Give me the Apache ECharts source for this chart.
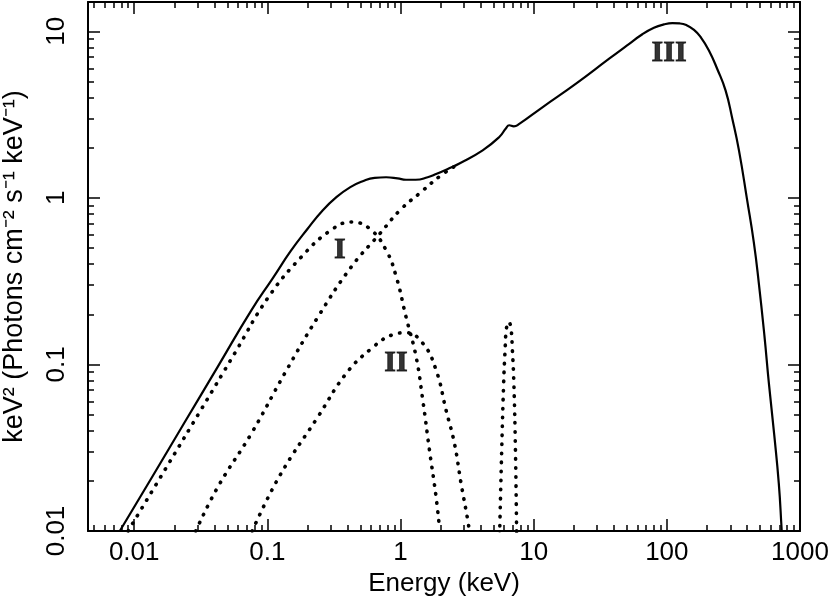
<!DOCTYPE html>
<html>
<head>
<meta charset="utf-8">
<script src="https://cdn.jsdelivr.net/npm/echarts@6/dist/echarts.min.js"></script>
<style>
html,body{margin:0;padding:0;background:#fff}
#chart{width:830px;height:600px}
</style>
</head>
<body>
<div id="chart"></div>
<script>
// total model (solid), energies in keV, flux in keV^2 Photons cm^-2 s^-1 keV^-1
var totalE = [0.0078, 0.0135, 0.024, 0.0427, 0.076, 0.11, 0.15, 0.2, 0.26, 0.33, 0.42, 0.52, 0.64, 0.78, 0.95, 1.1, 1.3, 1.6, 1.85, 2.3, 2.77, 4.14, 5.52, 6.2, 6.55, 7.1, 7.7, 11.7, 20.8, 36.9, 50, 65.5, 80, 95, 110, 125, 140, 160, 180, 207, 240, 276, 310, 348, 401, 450, 491, 540, 584, 640, 693, 726, 740];
var totalF = [0.01, 0.0208, 0.0451, 0.0977, 0.212, 0.33, 0.48, 0.65, 0.84, 1.01, 1.16, 1.26, 1.32, 1.33, 1.31, 1.285, 1.285, 1.33, 1.39, 1.50, 1.61, 1.93, 2.32, 2.62, 2.73, 2.69, 2.76, 3.51, 4.85, 6.85, 8.2, 9.6, 10.5, 11.0, 11.2, 11.15, 10.9, 10.2, 9.2, 7.68, 5.9, 4.42, 3.0, 1.93, 0.97, 0.54, 0.306, 0.15, 0.0769, 0.038, 0.0193, 0.0106, 0.008];

// component I (dotted)
var compIE = [0.009, 0.018, 0.032, 0.057, 0.101, 0.18, 0.30, 0.427, 0.586, 0.78, 0.93, 1.10, 1.31, 1.47, 1.65, 1.85, 1.96];
var compIF = [0.01, 0.0251, 0.054, 0.117, 0.251, 0.442, 0.64, 0.716, 0.654, 0.485, 0.335, 0.193, 0.111, 0.061, 0.0306, 0.016, 0.0105];

// component II (dotted)
var compIIE = [0.077, 0.124, 0.24, 0.39, 0.6, 0.877, 1.10, 1.47, 1.85, 2.2, 2.54, 2.85, 3.2, 3.3];
var compIIF = [0.01, 0.0215, 0.0485, 0.088, 0.124, 0.151, 0.155, 0.134, 0.0925, 0.053, 0.0336, 0.0193, 0.0116, 0.0098];

// component III below where it merges into the total (dotted)
var compIIIE = [0.029, 0.0427, 0.076, 0.135, 0.24, 0.427, 0.70, 1.0, 1.4, 2.0, 2.6];
var compIIIF = [0.01, 0.0185, 0.0386, 0.0883, 0.193, 0.385, 0.61, 0.85, 1.07, 1.36, 1.56];

// iron line (dotted)
var feE = [5.55, 5.75, 5.95, 6.1, 6.25, 6.5, 6.75, 6.92, 7.1, 7.3, 7.45];
var feF = [0.0095, 0.03, 0.077, 0.122, 0.165, 0.18, 0.165, 0.122, 0.077, 0.03, 0.0095];

// component labels
var labelNames = ['I', 'II', 'III'];
var labelE = [0.35, 0.925, 104];
var labelF = [0.485, 0.101, 7.42];

// axes
var xMin = 0.0045, xMax = 1000;
var yMin = 0.01, yMax = 15;
var majorX = [0.01, 0.1, 1, 10, 100, 1000];
var majorY = [0.01, 0.1, 1, 10];
var minorX = [], minorY = [];
[0.001, 0.01, 0.1, 1, 10, 100].forEach(function (d) {
	for (var k = 2; k <= 9; k++) {
		var v = Number((k * d).toPrecision(6));
		if (v > xMin && v < xMax) minorX.push(v);
		if (v > yMin && v < yMax) minorY.push(v);
	}
});

var sans = "'Liberation Sans', Arial, Helvetica, sans-serif";

function zip(a, b) {
	return a.map(function (v, i) { return [v, b[i]]; });
}
function fmt(v) {
	return String(Number(v.toPrecision(6)));
}

function makeAxis(dim, position, ticks, len, withLine, withLabel) {
	var ax = {
		type: 'log',
		logBase: 10,
		position: position,
		min: dim === 'x' ? xMin : yMin,
		max: dim === 'x' ? xMax : yMax,
		axisLine: {show: withLine, onZero: false, lineStyle: {color: '#000', width: 2}},
		axisTick: {show: true, inside: true, length: len, customValues: ticks,
			lineStyle: {color: '#000', width: 1.5}},
		axisLabel: {show: withLabel, customValues: ticks, color: '#000',
			fontFamily: sans, fontSize: 26, formatter: fmt},
		splitLine: {show: false},
		minorTick: {show: false}
	};
	if (dim === 'x') {
		ax.axisLabel.margin = 9;
	} else {
		ax.axisLabel.margin = 18;
		ax.axisLabel.rotate = 90;
	}
	return ax;
}

var xAxes = [
	makeAxis('x', 'bottom', majorX, 12, true, true),
	makeAxis('x', 'bottom', minorX, 6, false, false),
	makeAxis('x', 'top', majorX, 12, true, false),
	makeAxis('x', 'top', minorX, 6, false, false)
];
xAxes[0].name = 'Energy (keV)';
xAxes[0].nameLocation = 'middle';
xAxes[0].nameGap = 37;
xAxes[0].nameTextStyle = {color: '#000', fontFamily: sans, fontSize: 26};

var yAxes = [
	makeAxis('y', 'left', majorY, 12, true, true),
	makeAxis('y', 'left', minorY, 6, false, false),
	makeAxis('y', 'right', majorY, 12, true, false),
	makeAxis('y', 'right', minorY, 6, false, false)
];
yAxes[0].name = 'keV\u00b2 (Photons cm\u207b\u00b2 s\u207b\u00b9 keV\u207b\u00b9)';
yAxes[0].nameLocation = 'middle';
yAxes[0].nameGap = 60;
yAxes[0].nameTextStyle = {color: '#000', fontFamily: sans, fontSize: 27};

var dotted = {color: '#000', width: 3.6, type: [0.5, 8.5], cap: 'round'};

function dottedSeries(e, f) {
	return {
		type: 'line',
		data: zip(e, f),
		showSymbol: false,
		smooth: 0.45,
		lineStyle: dotted
	};
}

var myChart = echarts.init(document.getElementById('chart'));
var option = {
	backgroundColor: '#fff',
	animation: false,
	grid: {left: 88, right: 30, top: 2, bottom: 69, outerBoundsMode: 'none'},
	xAxis: xAxes,
	yAxis: yAxes,
	series: [
		{
			type: 'line',
			data: zip(totalE, totalF),
			showSymbol: false,
			smooth: 0.5,
			lineStyle: {color: '#000', width: 2.2}
		},
		dottedSeries(compIE, compIF),
		dottedSeries(compIIE, compIIF),
		dottedSeries(compIIIE, compIIIF),
		dottedSeries(feE, feF),
		{
			type: 'scatter',
			silent: true,
			symbolSize: 1,
			itemStyle: {color: 'rgba(0,0,0,0)'},
			data: labelE.map(function (e, i) {
				return {value: [e, labelF[i]], label: {formatter: labelNames[i]}};
			}),
			label: {
				show: true,
				position: 'inside',
				color: '#000',
				textBorderColor: '#000',
				textBorderWidth: 0.8,
				fontFamily: "'Liberation Serif', 'Times New Roman', serif",
				fontWeight: 'bold',
				fontSize: 30
			},
			z: 5
		}
	]
};
myChart.setOption(option);
</script>
</body>
</html>
